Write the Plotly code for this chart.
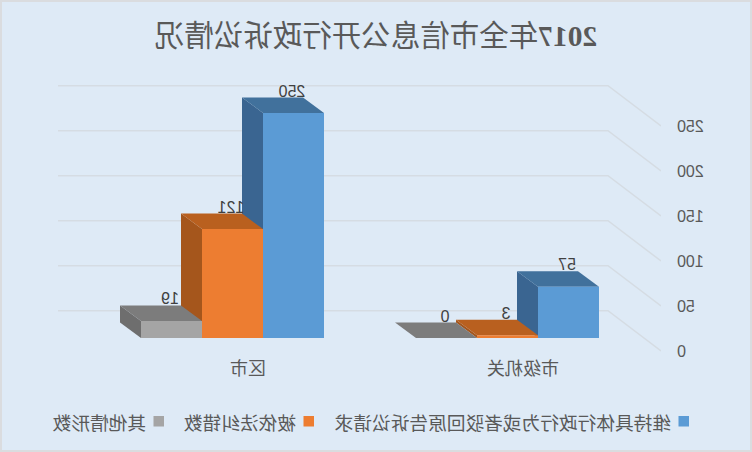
import plotly.graph_objects as go

title = "<b>2017</b>年全市信息公开行政诉讼情况"
categories = ["市级机关", "区市"]
series_names = ["维持具体行政行为或者驳回原告诉讼请求", "被依法纠错数", "其他情形数"]
upheld = [57, 250]
corrected = [3, 121]
other = [0, 19]
y_ticks = [0, 50, 100, 150, 200, 250]

front_colors = ["#5B9BD5", "#ED7D31", "#A5A5A5"]
top_colors = ["#41719C", "#B9601F", "#7C7C7C"]
side_colors = ["#3A6591", "#A5561C", "#6E6E6E"]
grid_color = "#D5DCE3"
text_color = "#595959"
cjk = "Noto Sans CJK SC"

WIDTH, HEIGHT = 752, 452
M_L, M_R, M_T, M_B = 91, 58, 60, 96

# px per category / px per value unit on the front plane
CAT_PX = 275
VAL_PX = 0.9
bar_w = 61 / CAT_PX
depth_x = 21 / CAT_PX
depth_y = 15.5 / VAL_PX
wall_y = 27.3 / VAL_PX      # back wall above the bar baseline
floor_y = -13 / VAL_PX      # front edge of the floor, below the bar baseline
x_min = -153.5 / CAT_PX
x_max = 1 + 174.5 / CAT_PX
wall_x = x_min + 53 / CAT_PX


def paper_x(px):
    return (px - M_L) / (WIDTH - M_L - M_R)


def paper_y(py):
    return 1 - (py - M_T) / (HEIGHT - M_T - M_B)


fig = go.Figure()


def polygon(xs, ys, color):
    fig.add_trace(go.Scatter(x=xs + xs[:1], y=ys + ys[:1], mode="lines", fill="toself",
                             fillcolor=color, line=dict(width=0), hoverinfo="skip",
                             showlegend=False))


for v in y_ticks:
    fig.add_trace(go.Scatter(x=[x_min, wall_x, x_max],
                             y=[v + floor_y, v + wall_y, v + wall_y],
                             mode="lines", line=dict(color=grid_color, width=1.5),
                             hoverinfo="skip", showlegend=False))

for s, values in enumerate([upheld, corrected, other]):
    for c, v in enumerate(values):
        center = c + (s - 1) * bar_w
        left = center - bar_w / 2
        right = center + bar_w / 2
        if v > 0:
            polygon([right, right + depth_x, right + depth_x, right],
                    [0, depth_y, v + depth_y, v], side_colors[s])
        polygon([left, right, right + depth_x, left + depth_x],
                [v, v, v + depth_y, v + depth_y], top_colors[s])
        if v > 0:
            polygon([left, right, right, left], [0, 0, v, v], front_colors[s])

label_x = []
label_y = []
label_text = []
for s, values in enumerate([upheld, corrected, other]):
    for c, v in enumerate(values):
        label_x.append(c + (s - 1) * bar_w + 1.5 / CAT_PX)
        label_y.append(v + depth_y + 5 / VAL_PX)
        label_text.append(str(v))
fig.add_trace(go.Scatter(x=label_x, y=label_y, text=label_text, mode="text",
                         textposition="middle center", hoverinfo="skip", showlegend=False,
                         textfont=dict(family="Liberation Sans", size=16, color="#404040")))

# hand placed legend, plotly keeps too wide a gap between symbol and text
legend_py = 421
legend_boxes = [63, 438, 588]
for s, name in enumerate(series_names):
    box = legend_boxes[s]
    fig.add_shape(type="rect", xref="paper", yref="paper",
                  x0=paper_x(box), x1=paper_x(box + 10.5),
                  y0=paper_y(legend_py + 5.5), y1=paper_y(legend_py - 5),
                  fillcolor=front_colors[s], line=dict(width=0))
    fig.add_annotation(text=name, xref="paper", yref="paper",
                       x=paper_x(box + 15.5), y=paper_y(legend_py),
                       xanchor="left", yanchor="middle", showarrow=False,
                       font=dict(family=cjk, size=18.7, color=text_color))

fig.add_shape(type="rect", xref="paper", yref="paper",
              x0=paper_x(0), x1=paper_x(WIDTH), y0=paper_y(HEIGHT), y1=paper_y(0),
              line=dict(color="#DADCDF", width=4), layer="below")

fig.update_layout(
    width=WIDTH,
    height=HEIGHT,
    margin=dict(l=M_L, r=M_R, t=M_T, b=M_B, autoexpand=False),
    paper_bgcolor="#DEEAF6",
    plot_bgcolor="rgba(0,0,0,0)",
    showlegend=False,
    title=dict(text=title, x=0.5, xanchor="center", y=1 - 36 / HEIGHT, yanchor="middle",
               font=dict(family="Liberation Serif, " + cjk, size=29.5, color=text_color)),
    xaxis=dict(range=[x_min, x_max], tickvals=[c - 15.5 / CAT_PX for c in range(len(categories))],
               ticktext=categories, showgrid=False, zeroline=False, showline=False,
               tickfont=dict(family=cjk, size=18, color=text_color)),
    yaxis=dict(range=[-18 / VAL_PX, 278 / VAL_PX], tickvals=[v + floor_y for v in y_ticks],
               ticktext=[str(v) for v in y_ticks], showgrid=False, zeroline=False, showline=False,
               ticklabelstandoff=15,
               tickfont=dict(family="Liberation Sans", size=16, color=text_color)),
)

# the reference is a mirror image, so flip the whole chart
flip = """
document.body.style.margin = '0';
document.body.style.overflow = 'hidden';
document.querySelector('.plotly-graph-div').style.transform = 'scaleX(-1)';
"""
fig.write_html("out.html", post_script=flip, config=dict(displayModeBar=False))
